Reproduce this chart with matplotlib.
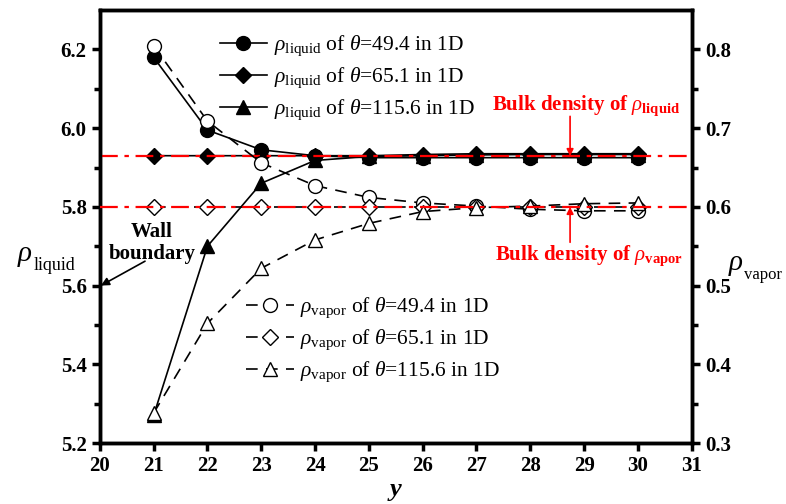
import numpy as np
import matplotlib
matplotlib.use('Agg')
from matplotlib import pyplot as plt

plt.rcParams['font.family'] = ['Liberation Serif', 'DejaVu Serif']
plt.rcParams['mathtext.fontset'] = 'custom'
plt.rcParams['mathtext.rm'] = 'Liberation Serif'
plt.rcParams['mathtext.it'] = 'Liberation Serif:italic'
plt.rcParams['mathtext.bf'] = 'Liberation Serif:bold'

# data
y_pos = [21, 22, 23, 24, 25, 26, 27, 28, 29, 30]
liq_494 = [6.18, 5.995, 5.945, 5.93, 5.925, 5.925, 5.925, 5.925, 5.925, 5.925]
liq_651 = [5.93, 5.93, 5.93, 5.93, 5.93, 5.933, 5.935, 5.935, 5.935, 5.935]
liq_1156 = [5.27, 5.70, 5.86, 5.918, 5.928, 5.93, 5.932, 5.933, 5.933, 5.933]
vap_494 = [0.805, 0.709, 0.656, 0.627, 0.612, 0.605, 0.601, 0.597, 0.595, 0.595]
vap_651 = [0.6, 0.6, 0.6, 0.6, 0.6, 0.6, 0.6, 0.6, 0.6, 0.6]
vap_1156 = [0.338, 0.452, 0.522, 0.558, 0.579, 0.594, 0.599, 0.601, 0.604, 0.605]
bulk_liq = 5.929
bulk_vap = 0.6

fig = plt.figure(figsize=(7.86, 5.04), dpi=100)
ax = fig.add_axes([0.127, 0.121, 0.753, 0.859])
ax2 = ax.twinx()

ms = 10
h1, = ax.plot(y_pos, liq_494, 'k-', marker='o', ms=ms, mfc='k', lw=1.2)
h2, = ax.plot(y_pos, liq_651, 'k-', marker='D', ms=ms - 1.5, mfc='k', lw=1.2)
h3, = ax.plot(y_pos, liq_1156, 'k-', marker='^', ms=ms, mfc='k', lw=1.2)
ax.axhline(bulk_liq, color='red', ls=(0, (8, 3, 2, 3)), lw=1.6, zorder=5)

h4, = ax2.plot(y_pos, vap_494, 'k--', marker='o', ms=ms, mfc='white', lw=1.2, dashes=(7, 5))
h5, = ax2.plot(y_pos, vap_651, 'k--', marker='D', ms=ms - 1.5, mfc='white', lw=1.2, dashes=(7, 5))
h6, = ax2.plot(y_pos, vap_1156, 'k--', marker='^', ms=ms, mfc='white', lw=1.2, dashes=(7, 5))
ax2.axhline(bulk_vap, color='red', ls=(0, (8, 3, 2, 3)), lw=1.6, zorder=5)

ax.set_xlim(20, 31)
ax.set_ylim(5.2, 6.3)
ax2.set_ylim(0.3, 0.85)
ax.set_xticks(range(20, 32))
ax.set_yticks([5.2, 5.4, 5.6, 5.8, 6.0, 6.2])
ax.set_yticks([5.3, 5.5, 5.7, 5.9, 6.1], minor=True)
ax2.set_yticks([0.3, 0.4, 0.5, 0.6, 0.7, 0.8])
ax2.set_yticks([0.35, 0.45, 0.55, 0.65, 0.75], minor=True)

for a in (ax, ax2):
    for s in a.spines.values():
        s.set_linewidth(2.5)
    a.tick_params(width=2.5, length=6, labelsize=15)
    a.tick_params(which='minor', width=2.5, length=4)
    for lab in a.get_xticklabels() + a.get_yticklabels():
        lab.set_fontweight('bold')
ax.tick_params(axis='x', which='minor', bottom=False)

ax.set_xlabel('y', fontsize=19, fontweight='bold', style='italic', labelpad=1)

# axis titles: rho plus a small subscript, placed by hand
ax.text(-0.140, 0.42, r'$\rho$', transform=ax.transAxes,
        fontsize=21, ha='left', va='baseline')
ax.text(-0.112, 0.40, 'liquid', transform=ax.transAxes,
        fontsize=13, ha='left', va='baseline')
ax.text(1.062, 0.40, r'$\rho$', transform=ax.transAxes,
        fontsize=21, ha='left', va='baseline')
ax.text(1.089, 0.38, 'vapor', transform=ax.transAxes,
        fontsize=12, ha='left', va='baseline')

leg1 = ax.legend([h1, h2, h3],
                 [r'$\rho_{\mathrm{liquid}}$ of $\theta$=49.4 in 1D',
                  r'$\rho_{\mathrm{liquid}}$ of $\theta$=65.1 in 1D',
                  r'$\rho_{\mathrm{liquid}}$ of $\theta$=115.6 in 1D'],
                 loc='upper left', bbox_to_anchor=(0.17, 0.99), frameon=False,
                 fontsize=15.5, handlelength=2.2, labelspacing=0.35, handletextpad=0.3)
ax2.legend([h4, h5, h6],
           [r'$\rho_{\mathrm{vapor}}$ of $\theta$=49.4 in 1D',
            r'$\rho_{\mathrm{vapor}}$ of $\theta$=65.1 in 1D',
            r'$\rho_{\mathrm{vapor}}$ of $\theta$=115.6 in 1D'],
           loc='upper left', bbox_to_anchor=(0.215, 0.385), frameon=False,
           fontsize=15.5, handlelength=2.2, labelspacing=0.35, handletextpad=0.3)

# wall boundary note
ax.text(20.97, 5.708, 'Wall\nboundary', fontsize=15, fontweight='bold',
        ha='center', va='center', linespacing=1.15)
ax.annotate('', xy=(20.02, 5.6), xytext=(20.84, 5.662),
            arrowprops=dict(arrowstyle='-|>', color='k', lw=1.2,
                            shrinkA=0, shrinkB=0, mutation_scale=12))

# bulk density notes
ax.text(29.03, 6.058, r'Bulk density of $\rho_{\mathbf{liquid}}$', color='red',
        fontsize=15, fontweight='bold', ha='center', va='center')
ax.annotate('', xy=(28.74, bulk_liq), xytext=(28.74, 6.03),
            arrowprops=dict(arrowstyle='-|>', color='red', lw=1.2,
                            shrinkA=0, shrinkB=0, mutation_scale=10))
ax2.text(29.1, 0.538, r'Bulk density of $\rho_{\mathbf{vapor}}$', color='red',
         fontsize=15, fontweight='bold', ha='center', va='center')
ax2.annotate('', xy=(28.74, bulk_vap), xytext=(28.74, 0.555),
             arrowprops=dict(arrowstyle='-|>', color='red', lw=1.2,
                             shrinkA=0, shrinkB=0, mutation_scale=10))

fig.savefig('out.png', dpi=100)
